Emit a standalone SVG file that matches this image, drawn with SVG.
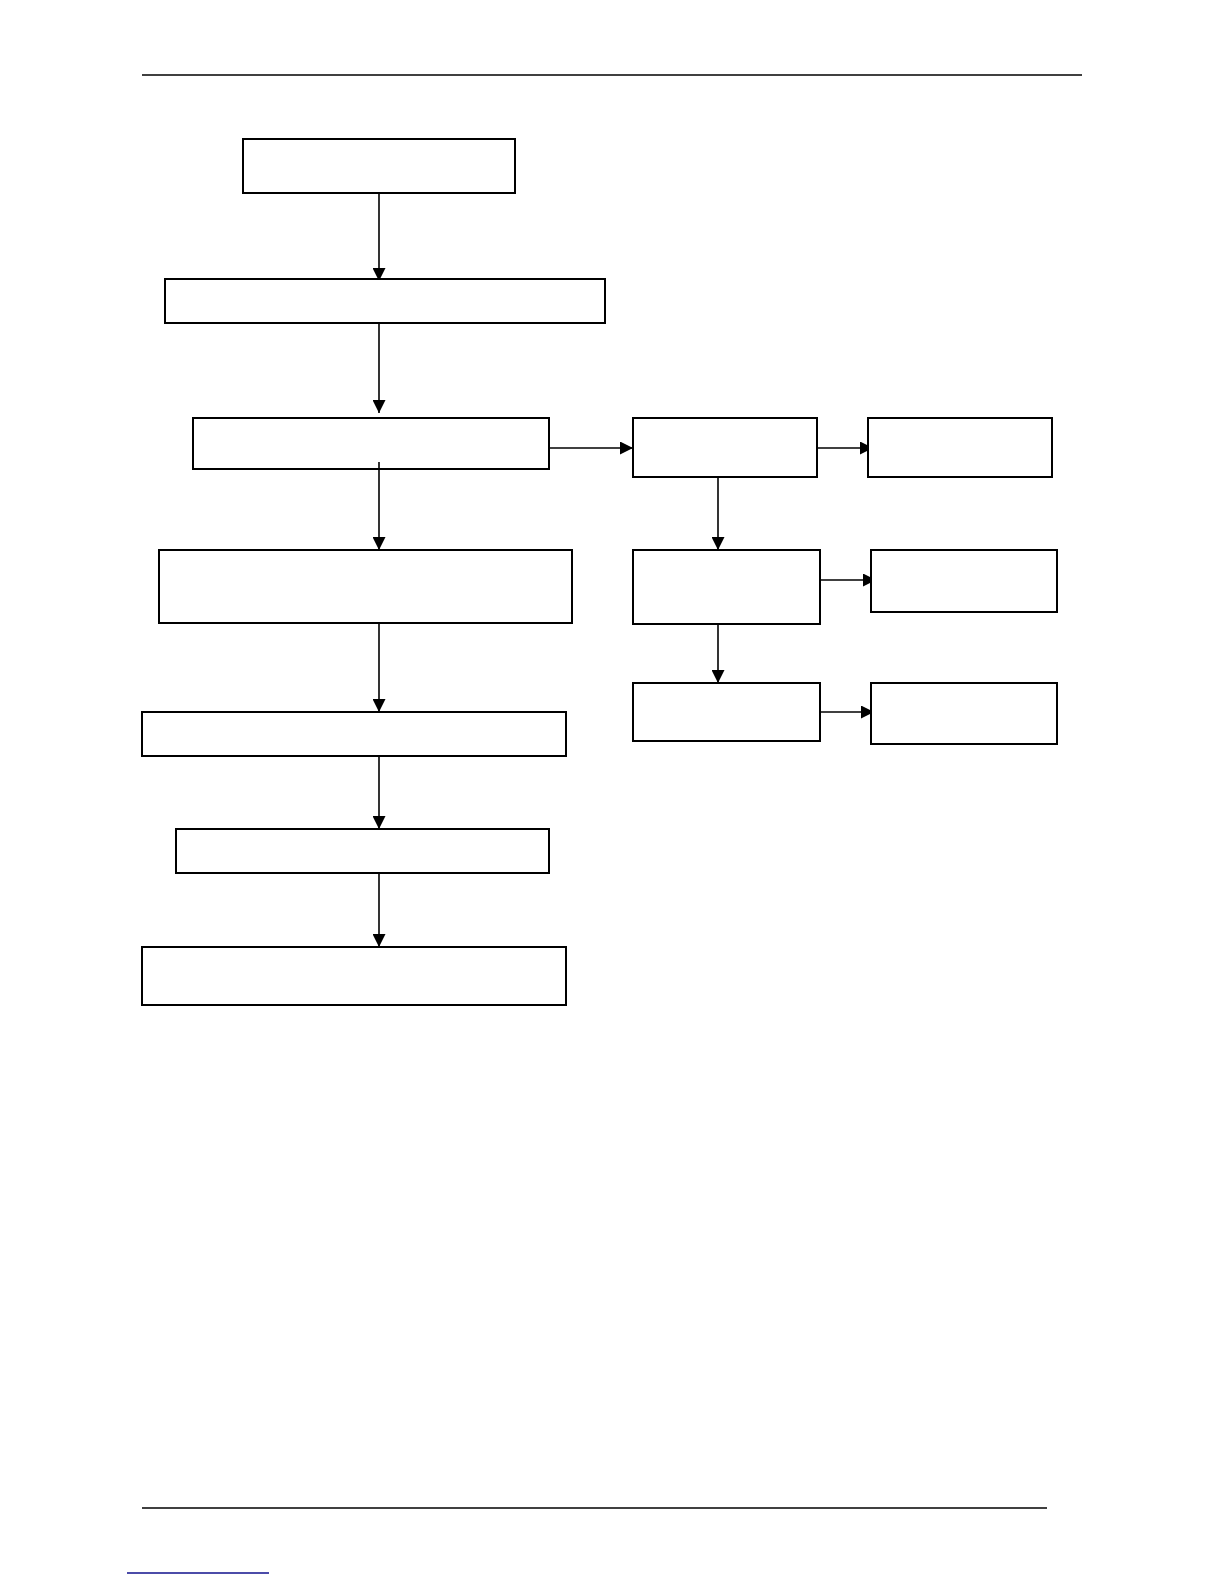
<svg xmlns="http://www.w3.org/2000/svg" width="1224" height="1584" viewBox="0 0 1224 1584">
<style>
.box{fill:#fff;stroke:#000;stroke-width:2}
.rule{stroke:#000;stroke-width:1.5}
.conn{stroke:#000;stroke-width:1.6;fill:none}
</style>
<defs>
<marker id="ah" markerUnits="userSpaceOnUse" markerWidth="13" markerHeight="13" viewBox="0 0 13 13" refX="13" refY="6.5" orient="auto">
<path d="M0,0 L13,6.5 L0,13 Z" fill="#000"/>
</marker>
</defs>
<rect width="1224" height="1584" fill="#fff"/>
<line class="rule" x1="142" y1="75" x2="1082" y2="75"/>
<line class="rule" x1="142" y1="1508" x2="1047" y2="1508"/>
<line x1="127" y1="1573" x2="269" y2="1573" stroke="#10108c" stroke-width="1.3"/>
<g id="connectors">
<line class="conn" x1="379" y1="193" x2="379" y2="281" marker-end="url(#ah)"/>
<line class="conn" x1="379" y1="323" x2="379" y2="413" marker-end="url(#ah)"/>
<line class="conn" x1="549" y1="448" x2="633" y2="448" marker-end="url(#ah)"/>
<line class="conn" x1="817" y1="448" x2="873" y2="448" marker-end="url(#ah)"/>
<line class="conn" x1="379" y1="462" x2="379" y2="550" marker-end="url(#ah)"/>
<line class="conn" x1="718" y1="477" x2="718" y2="550" marker-end="url(#ah)"/>
<line class="conn" x1="820" y1="580" x2="876" y2="580" marker-end="url(#ah)"/>
<line class="conn" x1="718" y1="624" x2="718" y2="683" marker-end="url(#ah)"/>
<line class="conn" x1="820" y1="712" x2="874" y2="712" marker-end="url(#ah)"/>
<line class="conn" x1="379" y1="623" x2="379" y2="712" marker-end="url(#ah)"/>
<line class="conn" x1="379" y1="756" x2="379" y2="829" marker-end="url(#ah)"/>
<line class="conn" x1="379" y1="873" x2="379" y2="947" marker-end="url(#ah)"/>
</g>
<g id="n1"><rect class="box" x="243" y="139" width="272" height="54"/></g>
<g id="n2"><rect class="box" x="165" y="279" width="440" height="44"/></g>
<g id="n3"><rect class="box" x="193" y="418" width="356" height="51"/></g>
<g id="n4"><rect class="box" x="633" y="418" width="184" height="59"/></g>
<g id="n5"><rect class="box" x="868" y="418" width="184" height="59"/></g>
<g id="n6"><rect class="box" x="159" y="550" width="413" height="73"/></g>
<g id="n7"><rect class="box" x="633" y="550" width="187" height="74"/></g>
<g id="n8"><rect class="box" x="871" y="550" width="186" height="62"/></g>
<g id="n9"><rect class="box" x="633" y="683" width="187" height="58"/></g>
<g id="n10"><rect class="box" x="871" y="683" width="186" height="61"/></g>
<g id="n11"><rect class="box" x="142" y="712" width="424" height="44"/></g>
<g id="n12"><rect class="box" x="176" y="829" width="373" height="44"/></g>
<g id="n13"><rect class="box" x="142" y="947" width="424" height="58"/></g>
<line class="conn" x1="379" y1="462" x2="379" y2="469"/>
</svg>
